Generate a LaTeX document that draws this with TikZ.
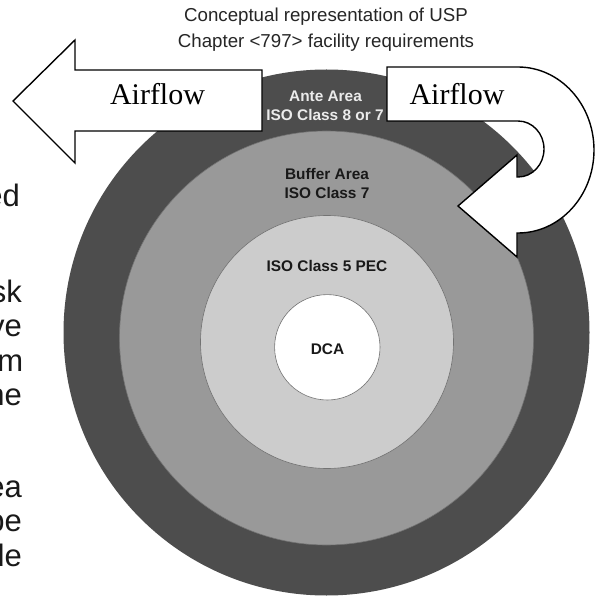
\documentclass[tikz,border=0pt]{standalone}
\usepackage{fontspec}
\setmainfont{Liberation Serif}
\setsansfont{Liberation Sans}
\definecolor{antec}{HTML}{4D4D4D}
\definecolor{bufc}{HTML}{999999}
\definecolor{pecc}{HTML}{CCCCCC}
\begin{document}
\begin{tikzpicture}[x=1pt,y=-1pt,
  ring/.style={draw=black!55,line width=0.6pt},
  lbl/.style={font=\sffamily\bfseries\fontsize{15.4}{19.3}\selectfont,align=center,inner sep=0pt,anchor=base},
  arrowshape/.style={draw=black,fill=white,line width=1.4pt,line join=miter},
  airtext/.style={font=\rmfamily\fontsize{30}{36}\selectfont,inner sep=0pt,anchor=base},
  sidetext/.style={font=\sffamily\fontsize{31}{36}\selectfont,inner sep=0pt,anchor=base east,text=black!90},
  titletext/.style={font=\sffamily\fontsize{18.7}{26}\selectfont,inner sep=0pt,anchor=base,text=black!85}]
\useasboundingbox (0,0) rectangle (600,596);
\clip (0,0) rectangle (600,596);
\fill[white] (0,0) rectangle (600,596);
% title
\node[titletext] (t1) at (326,22) {Conceptual representation of USP};
\node[titletext] (t2) at (326,48) {Chapter <797> facility requirements};
% side text fragments
\node[sidetext] (s1) at (20,207) {ed};
\node[sidetext] (s2) at (22,302) {sk};
\node[sidetext] (s3) at (22,336.5) {ve};
\node[sidetext] (s4) at (23.5,371) {m};
\node[sidetext] (s5) at (22,405.5) {ne};
\node[sidetext] (s6) at (22,497) {ea};
\node[sidetext] (s7) at (22,531.5) {be};
\node[sidetext] (s8) at (22,566) {de};
% rings
\fill[antec] (326.5,332.5) circle[radius=263];
\filldraw[fill=bufc,ring] (326.5,338) circle[radius=207];
\filldraw[fill=pecc,ring] (327,342) circle[radius=126.5];
\filldraw[fill=white,ring] (327.3,347.3) circle[radius=52.7];
% ring labels
\node[lbl,text=black!8] (ante) at (325.5,101.7) {Ante Area};
\node[lbl,text=black!8] (ante2) at (325,121) {ISO Class 8 or 7};
\node[lbl,text=black!90] (buf) at (327,180) {Buffer Area};
\node[lbl,text=black!90] (buf2) at (327,199) {ISO Class 7};
\node[lbl,text=black!90] (pec) at (327,272) {ISO Class 5 PEC};
\node[lbl,text=black!90] (dca) at (327.5,354) {DCA};
% left arrow
\draw[arrowshape] (13,101) -- (75,40) -- (75,70) -- (262,70) -- (262,131) -- (75,131) -- (75,163) -- cycle;
\node[airtext] (airL) at (157.5,105) {Airflow};
% right U-turn arrow
\draw[arrowshape] (387,67) -- (518,67)
  .. controls (560,67) and (594,104.2) .. (594,150)
  .. controls (594,195.8) and (560,233) .. (518,233)
  -- (517,233) -- (517,257) -- (458,206) -- (517,155) -- (517,177) -- (518,177)
  .. controls (532.4,177) and (544,164.5) .. (544,149)
  .. controls (544,133.5) and (532.4,121) .. (518,121)
  -- (387,121) -- cycle;
\node[airtext] (airR) at (457,105) {Airflow};
\end{tikzpicture}
\end{document}
